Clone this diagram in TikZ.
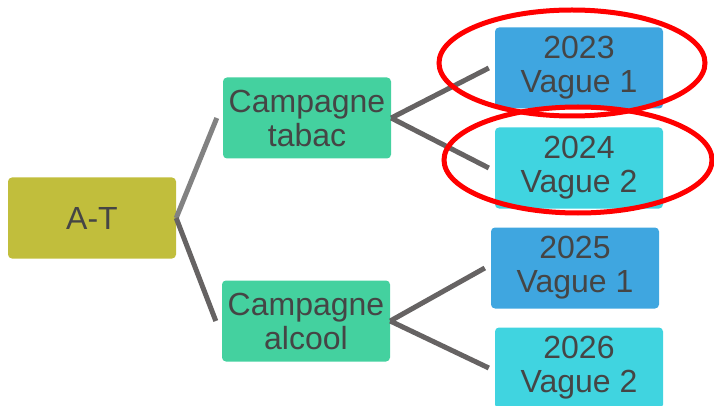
\documentclass[tikz,border=0pt]{standalone}
\usepackage{fontspec}
\setmainfont{Liberation Sans}
\usepackage{tikz}
\usetikzlibrary{shapes}
\definecolor{atolive}{HTML}{C1BE3C}
\definecolor{campgreen}{HTML}{44D19F}
\definecolor{vagueblue}{HTML}{3FA6E0}
\definecolor{vaguecyan}{HTML}{40D4E0}
\definecolor{txtgray}{HTML}{454545}
\definecolor{linelight}{HTML}{828282}
\definecolor{linedark}{HTML}{666363}
\tikzset{
  box/.style={rectangle, rounded corners=4pt, minimum width=168pt, minimum height=81pt,
    inner sep=0pt, align=center, text=txtgray, font=\fontsize{32}{34}\selectfont},
  branch/.style={line width=5pt},
  mark ring/.style={draw=red, line width=5pt}
}

\begin{document}
\begin{tikzpicture}[x=1pt, y=-1pt]
        \useasboundingbox (0,0) rectangle (714,406);
        % root
        \node[box, fill=atolive] (at) at (92,218) {A-T};
        % campagnes
        \node[box, fill=campgreen] (tabac) at (307,118) {Campagne\\tabac};
        \node[box, fill=campgreen] (alcool) at (306,321) {Campagne\\alcool};
        % vagues
        \node[box, fill=vagueblue] (v23) at (579,68) {2023\\Vague 1};
        \node[box, fill=vaguecyan] (v24) at (579,168) {2024\\Vague 2};
        \node[box, fill=vagueblue] (v25) at (575,268) {2025\\Vague 1};
        \node[box, fill=vaguecyan] (v26) at (579,368) {2026\\Vague 2};
        % branches
        \draw[branch, draw=linelight] (at.east) -- ([xshift=-6pt]tabac.west);
        \draw[branch, draw=linedark] (at.east) -- ([xshift=-6pt]alcool.west);
        \draw[branch, draw=linedark] (tabac.east) -- ([xshift=-6pt]v23.west);
        \draw[branch, draw=linedark] (tabac.east) -- ([xshift=-6pt]v24.west);
        \draw[branch, draw=linedark] (alcool.east) -- ([xshift=-6pt]v25.west);
        \draw[branch, draw=linedark] (alcool.east) -- ([xshift=-6pt]v26.west);
        % red rings
        \draw[mark ring] (572,63) ellipse (133 and 53);
        \draw[mark ring] (578,160) ellipse (134 and 53);
    \end{tikzpicture}
\end{document}
